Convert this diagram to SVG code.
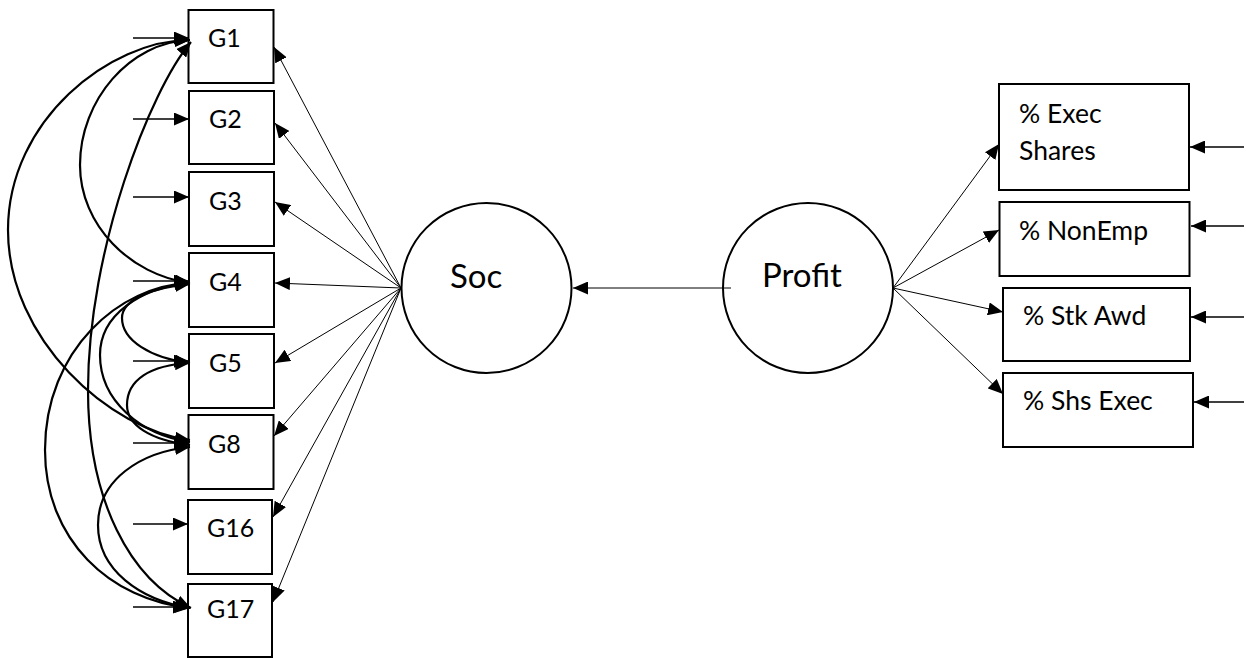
<svg xmlns="http://www.w3.org/2000/svg" width="1246" height="658" viewBox="0 0 1246 658">
<defs>
<style>
.box{fill:#fff;stroke:#000;stroke-width:2}
.circ{fill:#fff;stroke:#000;stroke-width:2}
.lbl{font-family:Lato,"Open Sans",sans-serif;font-size:25px;fill:#000}
.rlbl{font-family:Lato,"Open Sans",sans-serif;font-size:26.5px;fill:#000}
.big{font-family:Lato,"Open Sans",sans-serif;font-size:33px;fill:#000}
.thin{fill:none;stroke:#000;stroke-width:1;marker-end:url(#ah)}
.err{fill:none;stroke:#000;stroke-width:1.3;marker-end:url(#ah)}
.cov{fill:none;stroke:#000;stroke-width:2.2;marker-start:url(#ah);marker-end:url(#ah)}
</style>
<marker id="ah" markerUnits="userSpaceOnUse" markerWidth="15" markerHeight="13" viewBox="0 0 15 13" refX="15" refY="6.5" orient="auto-start-reverse">
<path d="M0,0 L15,6.5 L0,13 z" fill="#000"/>
</marker>
</defs>

<g id="G1"><rect class="box" x="188.5" y="10" width="85" height="73"/><text class="lbl" x="208" y="47">G1</text></g>
<g id="G2"><rect class="box" x="189" y="91" width="85" height="73"/><text class="lbl" x="209" y="128">G2</text></g>
<g id="G3"><rect class="box" x="189" y="172" width="85" height="74"/><text class="lbl" x="209" y="210">G3</text></g>
<g id="G4"><rect class="box" x="189" y="253" width="85" height="74"/><text class="lbl" x="209" y="291">G4</text></g>
<g id="G5"><rect class="box" x="189" y="334" width="85" height="74"/><text class="lbl" x="209" y="372">G5</text></g>
<g id="G8"><rect class="box" x="188.5" y="415" width="85" height="74"/><text class="lbl" x="208" y="453">G8</text></g>
<g id="G16"><rect class="box" x="188" y="500" width="84" height="74"/><text class="lbl" x="207" y="537">G16</text></g>
<g id="G17"><rect class="box" x="188" y="584" width="84" height="73"/><text class="lbl" x="207" y="618">G17</text></g>

<g id="Soc"><circle class="circ" cx="486.5" cy="288" r="85"/><text class="big" x="450" y="288">Soc</text></g>
<g id="Profit"><circle class="circ" cx="808" cy="288" r="85"/><text class="big" x="762" y="287">Profit</text></g>

<g id="ExecShares"><rect class="box" x="999" y="84" width="190" height="106"/><text class="rlbl" x="1019" y="123">% Exec</text><text class="rlbl" x="1019" y="160">Shares</text></g>
<g id="NonEmp"><rect class="box" x="999.5" y="202" width="190" height="74"/><text class="rlbl" x="1019" y="240">% NonEmp</text></g>
<g id="StkAwd"><rect class="box" x="1003" y="288" width="187" height="73"/><text class="rlbl" x="1023" y="325">% Stk Awd</text></g>
<g id="ShsExec"><rect class="box" x="1003" y="373" width="190" height="74"/><text class="rlbl" x="1023" y="410">% Shs Exec</text></g>

<g id="connectors">
<line class="thin" x1="401" y1="288" x2="274" y2="47"/>
<line class="thin" x1="401" y1="288" x2="275" y2="123"/>
<line class="thin" x1="401" y1="288" x2="275" y2="202"/>
<line class="thin" x1="401" y1="288" x2="275" y2="283"/>
<line class="thin" x1="401" y1="288" x2="275" y2="363"/>
<line class="thin" x1="401" y1="288" x2="274" y2="436"/>
<line class="thin" x1="401" y1="288" x2="273" y2="517"/>
<line class="thin" x1="401" y1="288" x2="273" y2="602"/>
<line class="thin" x1="731" y1="288" x2="573" y2="288"/>
<line class="thin" x1="893" y1="288" x2="999" y2="144"/>
<line class="thin" x1="893" y1="288" x2="999" y2="230"/>
<line class="thin" x1="893" y1="288" x2="1003" y2="312"/>
<line class="thin" x1="893" y1="288" x2="1003" y2="394"/>
<line class="err" x1="133" y1="38" x2="189" y2="38"/>
<line class="err" x1="133" y1="119" x2="189" y2="119"/>
<line class="err" x1="133" y1="197" x2="189" y2="197"/>
<line class="err" x1="133" y1="281" x2="189" y2="281"/>
<line class="err" x1="133" y1="361" x2="189" y2="361"/>
<line class="err" x1="133" y1="443" x2="189" y2="443"/>
<line class="err" x1="133" y1="524" x2="188" y2="524"/>
<line class="err" x1="133" y1="607" x2="188" y2="607"/>
<line class="err" x1="1244" y1="147" x2="1190" y2="147"/>
<line class="err" x1="1244" y1="226" x2="1191" y2="226"/>
<line class="err" x1="1244" y1="317" x2="1191" y2="317"/>
<line class="err" x1="1244" y1="402" x2="1194" y2="402"/>
<path class="cov" d="M190,40 C110,40 8,120 8,230 C8,340 110,430 190,440"/>
<path class="cov" d="M190,40 C130,42 80,100 80,165 C80,225 130,275 190,283"/>
<path class="cov" d="M191,42 C150,90 88,250 88,390 C88,500 130,580 191,608"/>
<path class="cov" d="M190,283 C120,285 45,350 45,450 C45,540 110,600 190,608"/>
<path class="cov" d="M190,283 C140,288 100,315 100,355 C100,400 140,435 190,442"/>
<path class="cov" d="M190,284 C150,288 122,300 122,318 C122,340 150,358 190,363"/>
<path class="cov" d="M190,363 C150,365 127,380 127,405 C127,425 150,440 190,445"/>
<path class="cov" d="M190,447 C140,452 98,480 98,525 C98,570 140,600 190,608"/>
</g>
</svg>
